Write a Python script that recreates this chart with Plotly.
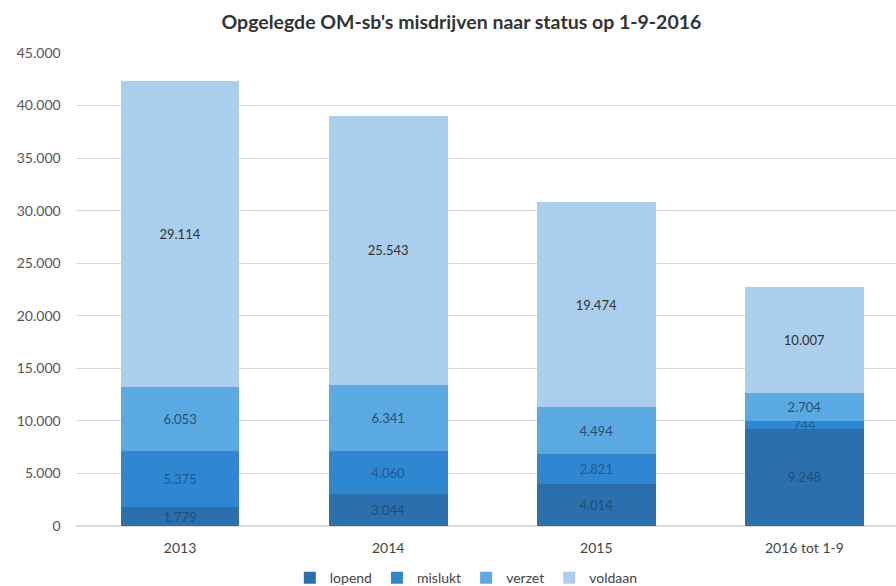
import plotly.graph_objects as go

categories = ["2013", "2014", "2015", "2016 tot 1-9"]
lopend = [1779, 3044, 4014, 9248]
mislukt = [5375, 4060, 2821, 744]
verzet = [6053, 6341, 4494, 2704]
voldaan = [29114, 25543, 19474, 10007]

series = [
    ("lopend", lopend, "#2C6FAE", "#1F4E79"),
    ("mislukt", mislukt, "#2F86D1", "#1F5C94"),
    ("verzet", verzet, "#5AA9E2", "#2A4F73"),
    ("voldaan", voldaan, "#AACEEB", "#333333"),
]

fig = go.Figure()
for name, vals, color, tcolor in series:
    fig.add_trace(go.Bar(
        x=categories, y=vals, name=name,
        marker=dict(color=color, line=dict(width=0)),
        texttemplate="%{y:,d}", textposition="inside", insidetextanchor="middle",
        textfont=dict(color=tcolor, size=13, family="Lato"),
        constraintext="none",
    ))

fig.update_layout(
    barmode="stack", bargap=0.43,
    separators=",.",
    width=896, height=586,
    margin=dict(l=76, r=0, t=53, b=60, autoexpand=False),
    paper_bgcolor="white", plot_bgcolor="white",
    font=dict(family="Lato", color="#555555", size=13),
    title=dict(text="<b>Opgelegde OM-sb's misdrijven naar status op 1-9-2016</b>",
               x=0.515, xanchor="center", y=0.962, yanchor="middle",
               font=dict(size=19.5, color="#333333", family="Lato")),
    uniformtext=dict(mode=False),
    legend=dict(orientation="h", x=0.476, xanchor="center", y=-0.11, yanchor="middle",
                font=dict(size=14, color="#444444"), traceorder="normal",
                itemwidth=30),
    xaxis=dict(range=[-0.5, 3.44], showgrid=False, showline=False, ticks="",
               ticklabelstandoff=12,
               tickfont=dict(size=14, color="#444444")),
    yaxis=dict(range=[0, 45000], dtick=5000, tickformat=",d", showgrid=True,
               gridcolor="#D9D9D9", zeroline=True, zerolinecolor="#D9D9D9",
               tickfont=dict(size=14, color="#555555"), ticksuffix="    "),
)

fig.write_html("out.html", config={"displayModeBar": False},
               post_script="document.body.style.margin='0';")
